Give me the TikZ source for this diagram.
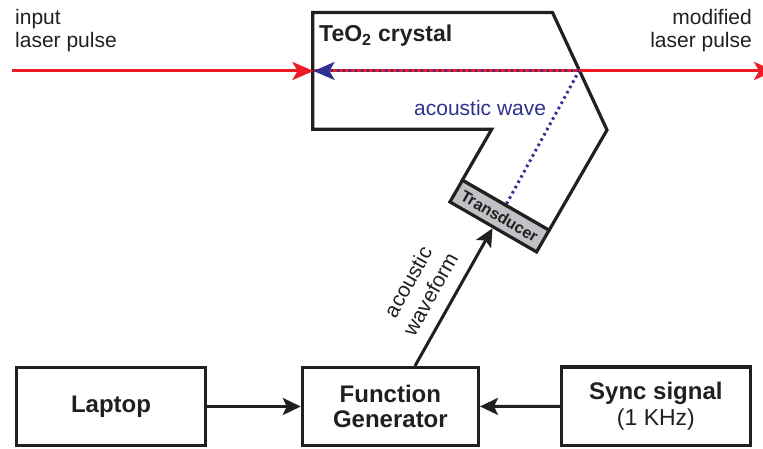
\documentclass[tikz,border=0pt]{standalone}
\usepackage{fontspec}
\setmainfont{Liberation Sans}
\usetikzlibrary{arrows.meta}
\definecolor{lred}{RGB}{237,28,36}
\definecolor{wblue}{RGB}{46,49,146}
\definecolor{ink}{RGB}{35,31,32}
\definecolor{tgray}{RGB}{192,193,197}
\begin{document}
\begin{tikzpicture}[x=1pt,y=-1pt,
  inkline/.style={draw=ink, line width=3.2pt},
  box/.style={inkline, rectangle, inner sep=0pt, font=\fontsize{24}{25.6}\selectfont\bfseries, align=center, text=ink},
  lbl/.style={inner sep=0pt, font=\fontsize{21}{23}\selectfont, text=ink},
  blk/.style={-{Stealth[length=18pt,width=17pt,inset=4pt]}, draw=ink, line width=3pt},
  laser/.style={draw=lred, line width=3pt},
  rtip/.style={-{Stealth[length=21pt,width=18pt,inset=5pt]}},
  wave/.style={draw=wblue, line width=3pt, dash pattern=on 2.5pt off 3.5pt},
  tdbox/.style={inkline, fill=tgray, rectangle, inner sep=0pt, minimum width=100pt, minimum height=25pt, font=\fontsize{16}{18}\selectfont\bfseries, text=ink},
]
\useasboundingbox (0,0) rectangle (763,449);
\clip (0,0) rectangle (763,449);

% crystal outline
\draw[inkline, line join=miter] (312.7,12.5) -- (552.5,12.5) -- (607,130) -- (549.1,230.3) -- (462.3,180.2) -- (491.7,129.3) -- (312.7,129.3) -- cycle;

% transducer
\node[tdbox, rotate=-30] (td) at (499.5,216.1) {Transducer};

% laser
\coordinate (hit) at (579,71);
\coordinate (lin) at (12,71);
\coordinate (lout) at (775,71);
\coordinate (edge) at (313.5,71);
\draw[laser, rtip] (lin) -- (edge);
\draw[laser, rtip] (edge) -- (lout);

% acoustic wave
\draw[wave] (td.north) -- (hit);
\draw[wave, -{Stealth[length=21pt,width=18pt,inset=5pt]}] (hit) -- (edge);

% labels
\node[lbl, anchor=base west] (in1) at (15,25) {input};
\node[lbl, anchor=base west] (in2) at (15,48) {laser pulse};
\node[lbl, anchor=base east] (out1) at (752,25) {modified};
\node[lbl, anchor=base east] (out2) at (752,48) {laser pulse};
\node[inner sep=0pt, anchor=base west, font=\fontsize{23}{25}\selectfont\bfseries, text=ink] (cr) at (319,42) {TeO\textsubscript{2} crystal};
\node[lbl, anchor=base west, text=wblue] (aw) at (414,116) {acoustic wave};

% boxes
\node[box, minimum width=189pt, minimum height=78pt] (laptop) at (111,406.5) {Laptop};
\node[box, minimum width=176pt, minimum height=78pt] (fg) at (390.4,406.5) {Function\\Generator};
\node[box, minimum width=188.5pt, minimum height=78.5pt] (sync) at (655.9,406.3) {Sync signal\\{\fontsize{23}{27}\selectfont\mdseries (1 KHz)}};

% connectors
\draw[blk] (laptop) -- (fg);
\draw[blk] (sync) -- (fg);
\draw[blk] ([xshift=24.6pt]fg.north) -- (td.south);
\node[lbl, rotate=61, align=center, font=\fontsize{21}{25.5}\selectfont] (awf) at (419,288) {acoustic\\waveform};
\end{tikzpicture}
\end{document}
